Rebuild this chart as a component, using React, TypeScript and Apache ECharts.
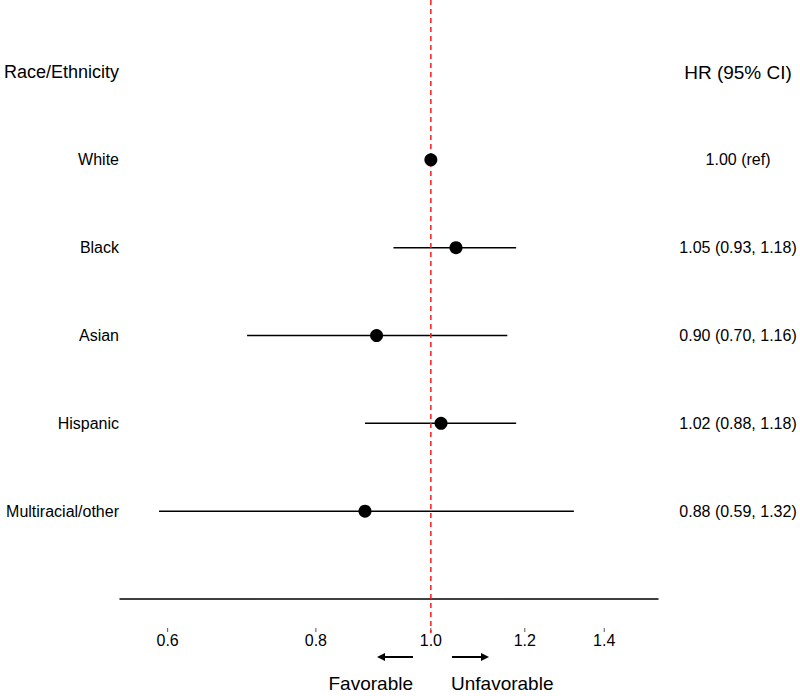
import React, { useEffect, useRef } from "react";
import * as echarts from "echarts";

const categories = ["White", "Black", "Asian", "Hispanic", "Multiracial/other"];
const hr = [1.0, 1.05, 0.9, 1.02, 0.88];
const ciLow: (number | null)[] = [null, 0.93, 0.7, 0.88, 0.59];
const ciHigh: (number | null)[] = [null, 1.18, 1.16, 1.18, 1.32];
const hrLabels = [
  "1.00 (ref)",
  "1.05 (0.93, 1.18)",
  "0.90 (0.70, 1.16)",
  "1.02 (0.88, 1.18)",
  "0.88 (0.59, 1.32)",
];
const tickValues = [0.6, 0.8, 1.0, 1.2, 1.4];
const refValue = 1.0;
const leftHeader = "Race/Ethnicity";
const rightHeader = "HR (95% CI)";

const FONT = "'Liberation Sans', Arial, Helvetica, sans-serif";

export default function App() {
  const ref = useRef<HTMLDivElement>(null);
  useEffect(() => {
    document.body.style.margin = "0";
    const chart = echarts.init(ref.current!, null, { renderer: "svg" });
    const yMin = -0.82;
    const yMax = 6;
    const gridTop = 0;
    const gridH = 599;
    const yOfPx = (px: number) => yMin + ((px - gridTop) / gridH) * (yMax - yMin);
    const rows = categories.map((_, i) => i + 1);
    const xMin = Math.log(0.547);
    const xMax = Math.log(1.554);

    const ciData = categories
      .map((_, i) =>
        ciLow[i] != null ? [Math.log(ciLow[i] as number), Math.log(ciHigh[i] as number), i + 1] : null
      )
      .filter((d) => d !== null) as number[][];

    chart.setOption({
      animation: false,
      textStyle: { fontFamily: FONT },
      grid: { left: 120, width: 538, top: gridTop, height: gridH },
      xAxis: [
        {
          type: "value",
          min: xMin,
          max: xMax,
          position: "bottom",
          axisLine: { show: true, onZero: false, lineStyle: { color: "#000", width: 1.5 } },
          axisTick: { show: false },
          axisLabel: { show: false },
          splitLine: { show: false },
        },
        {
          type: "value",
          min: xMin,
          max: xMax,
          position: "bottom",
          offset: 29,
          axisLine: { show: false },
          axisTick: { show: false },
          axisLabel: {
            show: true,
            margin: 4,
            fontSize: 16,
            color: "#000",
            fontFamily: FONT,
            customValues: tickValues.map(Math.log),
            formatter: (v: number) => Math.exp(v).toFixed(1),
          },
          splitLine: { show: false },
        },
      ],
      yAxis: [
        {
          type: "value",
          inverse: true,
          min: yMin,
          max: yMax,
          position: "left",
          axisLine: { show: false },
          axisTick: { show: false },
          splitLine: { show: false },
          axisLabel: {
            show: true,
            margin: 1,
            fontSize: 16,
            color: "#000",
            fontFamily: FONT,
            customValues: [0, ...rows],
            formatter: (v: number) => {
              const i = Math.round(v);
              return i === 0 ? `{h|${leftHeader}}` : `{r|${categories[i - 1] ?? ""}}`;
            },
            rich: {
              h: { fontSize: 18, fontFamily: FONT, color: "#000" },
              r: { fontSize: 16, fontFamily: FONT, color: "#000" },
            },
          },
        },
        {
          type: "value",
          inverse: true,
          min: yMin,
          max: yMax,
          position: "right",
          axisLine: { show: false },
          axisTick: { show: false },
          splitLine: { show: false },
          axisLabel: {
            show: true,
            margin: 80,
            align: "center",
            fontSize: 16,
            color: "#000",
            fontFamily: FONT,
            customValues: [0, ...rows],
            formatter: (v: number) => {
              const i = Math.round(v);
              return i === 0 ? `{h|${rightHeader}}` : `{r|${hrLabels[i - 1] ?? ""}}`;
            },
            rich: {
              h: { fontSize: 19, fontFamily: FONT, color: "#000" },
              r: { fontSize: 16, fontFamily: FONT, color: "#000" },
            },
          },
        },
      ],
      series: [
        {
          type: "custom",
          xAxisIndex: 0,
          yAxisIndex: 0,
          data: ciData,
          encode: { x: [0, 1], y: 2 },
          renderItem: (params: any, api: any) => {
            const p1 = api.coord([api.value(0), api.value(2)]);
            const p2 = api.coord([api.value(1), api.value(2)]);
            return {
              type: "line",
              shape: { x1: p1[0], y1: p1[1], x2: p2[0], y2: p2[1] },
              style: { stroke: "#000", lineWidth: 1.5 },
            };
          },
          z: 2,
        },
        {
          type: "line",
          xAxisIndex: 0,
          yAxisIndex: 0,
          data: [
            [Math.log(refValue), yMin],
            [Math.log(refValue), yOfPx(633)],
          ],
          symbol: "none",
          clip: false,
          lineStyle: { color: "#ff1a1a", width: 1.5, type: [5, 4] },
          z: 3,
        },
        {
          type: "scatter",
          xAxisIndex: 0,
          yAxisIndex: 0,
          data: hr.map((v, i) => [Math.log(v), i + 1]),
          symbol: "circle",
          symbolSize: 13,
          itemStyle: { color: "#000", opacity: 1 },
          z: 4,
        },
        {
          type: "scatter",
          xAxisIndex: 0,
          yAxisIndex: 0,
          data: tickValues.map((v) => [Math.log(v), yOfPx(630)]),
          symbol: "rect",
          symbolSize: [1, 4],
          clip: false,
          itemStyle: { color: "#555", opacity: 1 },
          z: 1,
        },
      ],
      graphic: [
        {
          type: "line",
          shape: { x1: 413, y1: 657, x2: 382, y2: 657 },
          style: { stroke: "#000", lineWidth: 2 },
        },
        {
          type: "polygon",
          shape: { points: [[377, 657], [385, 653], [385, 661]] },
          style: { fill: "#000" },
        },
        {
          type: "line",
          shape: { x1: 452, y1: 657, x2: 484, y2: 657 },
          style: { stroke: "#000", lineWidth: 2 },
        },
        {
          type: "polygon",
          shape: { points: [[489, 657], [481, 653], [481, 661]] },
          style: { fill: "#000" },
        },
        {
          type: "text",
          x: 413,
          y: 683,
          style: {
            text: "Favorable",
            fontSize: 19,
            fontFamily: FONT,
            fill: "#000",
            align: "right",
            verticalAlign: "middle",
          },
        },
        {
          type: "text",
          x: 451,
          y: 683,
          style: {
            text: "Unfavorable",
            fontSize: 19,
            fontFamily: FONT,
            fill: "#000",
            align: "left",
            verticalAlign: "middle",
          },
        },
      ],
    });
    return () => chart.dispose();
  }, []);
  return <div ref={ref} style={{ width: 800, height: 696 }} />;
}
